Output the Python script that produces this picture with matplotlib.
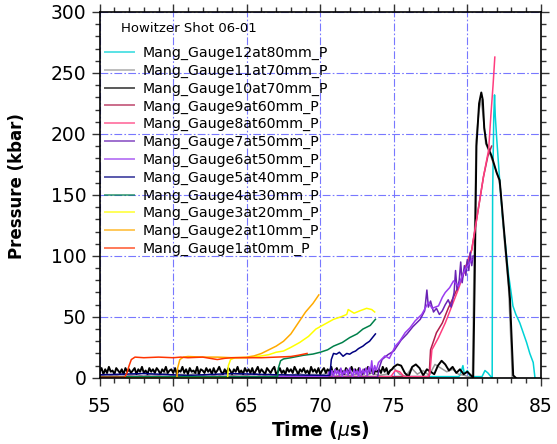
import numpy as np
import matplotlib
matplotlib.use("Agg")
import matplotlib.pyplot as plt
from matplotlib.lines import Line2D
from matplotlib.ticker import MultipleLocator

# ---------------- data ----------------
title_text = "Howitzer Shot 06-01"
labels = ["Mang_Gauge12at80mm_P", "Mang_Gauge11at70mm_P", "Mang_Gauge10at70mm_P",
          "Mang_Gauge9at60mm_P", "Mang_Gauge8at60mm_P", "Mang_Gauge7at50mm_P",
          "Mang_Gauge6at50mm_P", "Mang_Gauge5at40mm_P", "Mang_Gauge4at30mm_P",
          "Mang_Gauge3at20mm_P", "Mang_Gauge2at10mm_P", "Mang_Gauge1at0mm_P"]

# Gauge 1 (0 mm)
g1_t = [55, 56.7, 56.85, 57.0, 57.15, 57.4, 58, 59, 60, 60.5, 61, 62, 62.5, 63, 63.5, 64, 65, 66, 67, 68, 68.5, 69.1]
g1_p = [0.5, 0.5, 4, 10, 15, 17, 16.5, 17, 16.5, 17, 16.5, 17, 16, 15, 16, 16.5, 16.5, 16.5, 17, 17.5, 18.5, 20]
# Gauge 2 (10 mm)
g2_t = [55, 60.25, 60.3, 60.45, 60.7, 61, 62, 63, 64, 65, 65.5, 66, 66.5, 67, 67.5, 68, 68.5, 69, 69.5, 69.9]
g2_p = [0, 0, 8, 15, 17, 17.5, 17, 17, 16.5, 17, 18, 20, 23, 26, 30, 36, 45, 54, 61, 68]
# Gauge 3 (20 mm)
g3_t = [55, 63.7, 63.75, 63.9, 64.2, 65, 65.5, 66, 66.5, 67, 67.5, 68, 68.6, 69.2, 69.7, 70.3, 70.9, 71.4, 71.8, 71.9, 72.3, 72.7, 73.15, 73.5, 73.7]
g3_p = [0, 0, 10, 15, 16.5, 16.5, 17, 18, 19, 21, 22, 25, 29, 34, 40, 44, 48, 50, 52, 56, 53, 55, 57, 56, 54]
# Gauge 4 (30 mm)
g4_t = [55, 67.1, 67.15, 67.3, 67.5, 68, 68.85, 69.5, 70, 70.5, 70.9, 71.5, 72, 72.5, 72.9, 73.4, 73.75]
g4_p = [1, 1, 8, 14, 15.5, 16.5, 18.5, 19.5, 21, 23, 26, 29, 33, 36, 40, 43, 48]
# Gauge 5 (40 mm)
g5_t = [55, 58, 61, 64, 67, 70.65, 70.7, 70.75, 70.9, 71.1, 71.3, 71.55, 71.8, 72.0, 72.2, 72.4, 72.6, 72.9, 73.1, 73.35, 73.55, 73.75]
g5_p = [2.5, 3.5, 2, 3.5, 2.5, 2, 8, 15, 20, 19.4, 21, 17.7, 20, 19.4, 21, 22, 24, 26, 28, 30, 33, 36]
# Gauge 6 (50 mm)
g6_t = [55, 70.5, 70.6, 70.7, 70.8, 70.9, 71.0, 71.1, 71.2, 71.3, 71.4, 71.5, 71.6, 71.7, 71.8, 71.9, 72.0, 72.1, 72.2,
        72.3, 72.4, 72.5, 72.6, 72.7, 72.8, 72.9, 73.0, 73.1, 73.2, 73.3, 73.4, 73.5, 73.6, 73.7, 73.8,
        73.96, 74.4, 74.7, 75.1, 75.4, 75.77, 76.1, 76.45, 76.9, 77.36, 77.6, 78.04, 78.3, 78.5, 78.8, 79.06, 79.4, 79.6, 79.85, 80.1, 80.3]
g6_p = [1, 1, 5, 2, 6, 1, 7, 3, 6, 2, 8, 1, 6, 3, 7, 2, 8, 4, 1, 7, 3, 6, 1, 8, 2, 7, 3, 8, 2, 9, 4, 14, 3, 10, 6,
        12.6, 18, 16, 26, 30, 37, 41, 46.7, 52, 62, 57, 59, 66, 70, 74, 79.5, 75, 82, 89, 93, 97]
# Gauge 7 (50 mm)
g7_t = [55, 73.9, 74.0, 74.2, 74.6, 75.0, 75.5, 75.9, 76.3, 76.8, 77.1, 77.25, 77.35, 77.5, 77.7, 77.9, 78.1, 78.3, 78.5,
        78.7, 78.9, 79.1, 79.2, 79.3, 79.45, 79.55, 79.65, 79.8, 79.9, 80.0, 80.1, 80.2, 80.3, 80.4]
g7_p = [0.5, 0.5, 8, 15, 19, 22, 31, 36, 42, 48, 55, 72, 58, 63, 54, 57, 52, 55, 60,
        64, 58, 70, 88, 72, 80, 95, 78, 92, 84, 97, 88, 103, 92, 100]
# Gauge 8 (60 mm)
g8_t = [55, 74.8, 75.1, 75.4, 75.7, 77.3, 77.45, 77.59, 78.04, 78.5, 78.95, 79.4, 79.85, 80.3, 80.7, 81.1, 81.45, 81.6, 81.75, 81.87]
g8_p = [1, 1, 6, 5, 1, 1, 3, 23, 33, 45, 59, 73, 89, 105, 135, 165, 187, 215, 240, 263]
# Gauge 9 (60 mm)
g9_t = [55, 77.4, 77.5, 77.9, 78.3, 78.7, 79.2, 79.6, 80.0, 80.3, 80.7, 81.1, 81.4, 81.65]
g9_p = [1, 1, 23, 37, 45, 57, 70, 81, 95, 105, 135, 165, 182, 190]
# Gauge 10 (70 mm): noisy baseline sampled every 0.125 us to 75 us, every 0.25 us to 80.25 us, then the shock
g10_base_p = [5, 8, 3, 7, 4, 9, 5, 6, 3, 8, 6, 4, 7, 3, 8, 5, 7, 4, 6, 8,
              3, 7, 5, 9, 4, 6, 3, 8, 5, 7, 4, 8, 6, 3, 7, 5, 9, 4, 6, 7,
              4, 8, 3, 6, 5, 9, 4, 7, 3, 8, 5, 6, 4, 9, 3, 7, 6, 4, 8, 5,
              7, 3, 8, 4, 6, 9, 5, 3, 7, 4, 8, 6, 3, 7, 5, 9, 4, 6, 3, 8,
              5, 7, 4, 8, 3, 6, 9, 4, 7, 5, 3, 8, 6, 4, 7, 9, 3, 5, 8, 4,
              6, 3, 8, 5, 7, 4, 9, 6, 3, 7, 5, 8, 4, 6, 3, 9, 5, 7, 4, 8,
              3, 6, 8, 4, 7, 5, 9, 3, 6, 8, 4, 7, 5, 3, 8, 6, 4, 9, 5, 7,
              4, 8, 5, 3, 7, 6, 9, 4, 8, 3, 6, 5, 7, 4, 9, 5, 8, 3, 6, 7]
g10_bump_p = [9, 11, 10, 4, 1, 9, 11, 8, 2, 7, 5, 3, 10, 14, 11, 6, 9, 4, 7, 3, 5, 2]
g10_peak_t = [80.4, 80.5, 80.62, 80.8, 80.95, 81.05, 81.15, 81.3, 81.65, 82.0, 82.2, 82.55, 82.9, 83.12, 83.3]
g10_peak_p = [0, 80, 190, 225, 234, 228, 205, 192, 182, 168, 162, 114, 65, 2, 0]
# Gauge 11 (70 mm)
g11_base_p = [2, 3, 1, 4, 2, 3, 1, 3, 2, 4, 1, 3, 2, 4, 2, 3, 1, 4, 2, 3,
              2, 4, 1, 3, 2, 3, 1, 4, 2, 3, 2, 4, 1, 3, 2, 3, 1, 4, 2, 3]
g11_bump_p = [8, 3, 1, 8, 3, 6, 2, 11, 8, 5, 7, 3, 2]
g11_peak_t = [80.35, 80.45, 80.6, 80.8, 80.95, 81.1, 81.25, 81.5, 81.8, 82.1, 82.25, 82.5, 82.8, 83.0, 83.05]
g11_peak_p = [0, 90, 195, 220, 228, 212, 192, 185, 175, 165, 155, 115, 75, 20, 0]
# Gauge 12 (80 mm)
g12_t = [55, 79.4, 79.5, 79.7, 79.8, 80.0, 80.2, 81.0, 81.2, 81.4, 81.6, 81.69, 81.72, 81.8, 81.85, 81.9, 82.0,
         82.2, 82.4, 82.6, 82.8, 83.0, 83.1, 83.3, 83.57, 83.8, 84.03, 84.25, 84.48, 84.6]
g12_p = [1, 1, 2, 10, 3, 6, 1, 1, 6, 4, 1, 0, 150, 215, 232, 215, 196,
         162, 130, 108, 85, 68, 59, 52, 45, 37, 29, 20, 12.6, 0]

colors = ['#00d2d6', '#9a9a9a', '#000000', '#b01e4c', '#ff3d7f', '#6a22b4',
          '#9a3cf0', '#000080', '#00804a', '#ffff00', '#ffaa00', '#ff3300']
widths = [1.1, 1.1, 1.4, 1.1, 1.1, 1.1, 1.1, 1.1, 1.1, 1.1, 1.1, 1.1]

# ---------------- figure ----------------
fig = plt.figure(figsize=(5.57, 4.44), dpi=100)
ax = fig.add_axes([0.179, 0.149, 0.792, 0.824])

g10_t = np.concatenate([55.0 + 0.125 * np.arange(len(g10_base_p)),
                        75.0 + 0.25 * np.arange(len(g10_bump_p)), g10_peak_t])
g10_p = np.concatenate([g10_base_p, g10_bump_p, g10_peak_p])
g11_t = np.concatenate([55.0 + 0.5 * np.arange(len(g11_base_p)),
                        75.0 + 0.4 * np.arange(len(g11_bump_p)), g11_peak_t])
g11_p = np.concatenate([g11_base_p, g11_bump_p, g11_peak_p])

series = [(g12_t, g12_p), (g11_t, g11_p), (g10_t, g10_p), (g9_t, g9_p), (g8_t, g8_p),
          (g7_t, g7_p), (g6_t, g6_p), (g5_t, g5_p), (g4_t, g4_p), (g3_t, g3_p),
          (g2_t, g2_p), (g1_t, g1_p)]

ax.grid(True, which='major', color='#7878ff', linestyle=(0, (7, 2, 1.5, 2)), linewidth=0.8)
ax.set_axisbelow(True)

for (t, p), c, w in zip(series, colors, widths):
    ax.plot(t, p, color=c, linewidth=w)

ax.set_xlim(55, 85)
ax.set_ylim(0, 300)
ax.xaxis.set_major_locator(MultipleLocator(5))
ax.xaxis.set_minor_locator(MultipleLocator(1))
ax.yaxis.set_major_locator(MultipleLocator(50))
ax.yaxis.set_minor_locator(MultipleLocator(10))
ax.tick_params(which='both', direction='out', top=True, right=True, labelsize=13.5, width=1.0, color='#333333')
ax.tick_params(which='major', length=6)
ax.tick_params(which='minor', length=3.5)
ax.tick_params(axis='x', which='major', pad=8)
for s in ax.spines.values():
    s.set_linewidth(1.2)

ax.set_xlabel("Time ($\\mu$s)", fontsize=13.5, fontweight='bold', labelpad=2)
ax.set_ylabel("Pressure (kbar)", fontsize=12, fontweight='bold')
ax.yaxis.set_label_coords(-0.168, 0.523)

ax.text(0.048, 0.956, title_text, transform=ax.transAxes, fontsize=9.5, va='center', ha='left')
handles = [Line2D([], [], color=c, linewidth=1.4, alpha=0.65) for c in colors]
leg = ax.legend(handles, labels, loc='upper left', bbox_to_anchor=(0.005, 0.915), frameon=False,
                fontsize=10.2, handlelength=2.1, handletextpad=0.55, labelspacing=0.26,
                borderaxespad=0.0, borderpad=0.2)

fig.savefig("out.png", dpi=100)
